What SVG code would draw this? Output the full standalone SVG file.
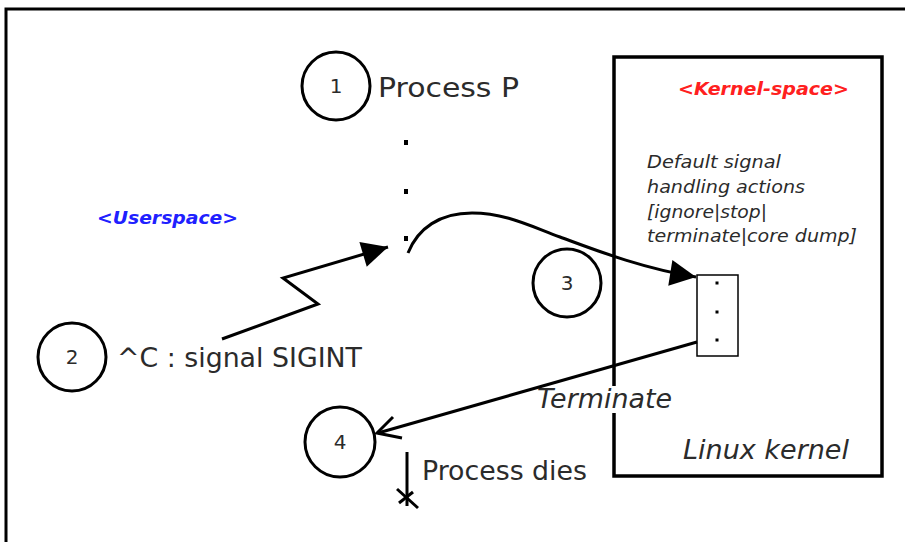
<svg xmlns="http://www.w3.org/2000/svg" width="905" height="542" viewBox="0 0 905 542">
  <style>
    .txt { font-family: "DejaVu Sans", "Liberation Sans", sans-serif; fill: #2b2b2b; }
    .big { font-size: 26px; }
    .it { font-style: italic; }
    .num { font-size: 20px; text-anchor: middle; }
    .small { font-size: 17px; }
    .tag { font-size: 17px; font-weight: bold; font-style: italic; }
    .ring { fill: #fff; stroke: #000; stroke-width: 3; }
    .wire { fill: none; stroke: #000; stroke-width: 3; stroke-linejoin: miter; }
    .dot { fill: #000; }
  </style>
  <defs>
    <marker id="solid" viewBox="-28 -14 30 28" refX="0" refY="0" markerWidth="30" markerHeight="28" markerUnits="userSpaceOnUse" orient="auto">
      <path d="M0,0 L-26,-13 L-26,13 Z" fill="#000"/>
    </marker>
  </defs>

  <!-- outer frame -->
  <path d="M6,542 V9 H905" fill="none" stroke="#000" stroke-width="3"/>

  <!-- kernel area -->
  <g id="kernel">
    <rect x="614" y="57" width="268" height="419" fill="#fff" stroke="#000" stroke-width="3.5"/>
    <text class="txt tag" x="678" y="95" fill="#ff2020" style="fill:#ff2020" textLength="171" lengthAdjust="spacingAndGlyphs">&lt;Kernel-space&gt;</text>
    <text class="txt small it" x="647" y="168" textLength="134" lengthAdjust="spacingAndGlyphs">Default signal</text>
    <text class="txt small it" x="647" y="193" textLength="158" lengthAdjust="spacingAndGlyphs">handling actions</text>
    <text class="txt small it" x="647" y="218" textLength="120" lengthAdjust="spacingAndGlyphs">[ignore|stop|</text>
    <text class="txt small it" x="647" y="242" textLength="210" lengthAdjust="spacingAndGlyphs">terminate|core dump]</text>
    <text class="txt big it" x="683" y="459" textLength="166" lengthAdjust="spacingAndGlyphs">Linux kernel</text>
  </g>

  <!-- handler table -->
  <g id="handlers">
    <rect x="697" y="275" width="41" height="81" fill="#fff" stroke="#000" stroke-width="1.5"/>
    <rect class="dot" x="715.5" y="281.5" width="3" height="3"/>
    <rect class="dot" x="715.5" y="310.5" width="3" height="3"/>
    <rect class="dot" x="715.5" y="338.5" width="3" height="3"/>
  </g>

  <!-- userspace label -->
  <g id="userspace">
    <text class="txt tag" x="97" y="224" style="fill:#2020ff" textLength="141" lengthAdjust="spacingAndGlyphs">&lt;Userspace&gt;</text>
  </g>

  <!-- step 1: the process -->
  <g id="step1">
    <circle class="ring" cx="336" cy="86" r="34"/>
    <text class="txt num" x="336" y="93">1</text>
    <text class="txt big" x="378" y="97" textLength="141" lengthAdjust="spacingAndGlyphs">Process P</text>
    <rect class="dot" x="404" y="140" width="4" height="5"/>
    <rect class="dot" x="404" y="189" width="4" height="5"/>
    <rect class="dot" x="404" y="236" width="4" height="5"/>
  </g>

  <!-- step 2: the keyboard signal -->
  <g id="step2">
    <circle class="ring" cx="72" cy="357" r="34"/>
    <text class="txt num" x="72" y="364">2</text>
    <text class="txt big" x="117" y="367" textLength="245" lengthAdjust="spacingAndGlyphs">^C : signal SIGINT</text>
  </g>

  <!-- step 3 -->
  <g id="step3">
    <circle class="ring" cx="567" cy="283" r="34"/>
    <text class="txt num" x="567" y="290">3</text>
  </g>

  <!-- step 4 -->
  <g id="step4">
    <circle class="ring" cx="340" cy="442" r="35"/>
    <text class="txt num" x="340" y="449">4</text>
  </g>

  <!-- connectors -->
  <g id="connectors">
    <!-- SIGINT delivered to the process -->
    <polyline class="wire" points="222,339 318,304 283,278 388,247" marker-end="url(#solid)"/>
    <!-- process traps into the kernel's default handler -->
    <path class="wire" d="M408,253 C418,228 440,213 472,213 C505,213 530,226 560,237 C590,248 640,268 696,277" marker-end="url(#solid)"/>
    <!-- default action: terminate -->
    <rect x="533" y="386" width="142" height="27" fill="#fff"/>
    <text class="txt big it" x="537" y="408" textLength="135" lengthAdjust="spacingAndGlyphs">Terminate</text>
    <line class="wire" x1="697" y1="342" x2="378" y2="433"/>
    <polyline class="wire" points="393,417 377,433 402,438"/>
    <!-- process dies -->
    <line class="wire" x1="407" y1="452" x2="407" y2="506"/>
    <line class="wire" x1="397" y1="489" x2="418" y2="508"/>
    <line class="wire" x1="399" y1="503" x2="413" y2="492"/>
    <text class="txt big" x="422" y="480" textLength="165" lengthAdjust="spacingAndGlyphs">Process dies</text>
  </g>
</svg>
